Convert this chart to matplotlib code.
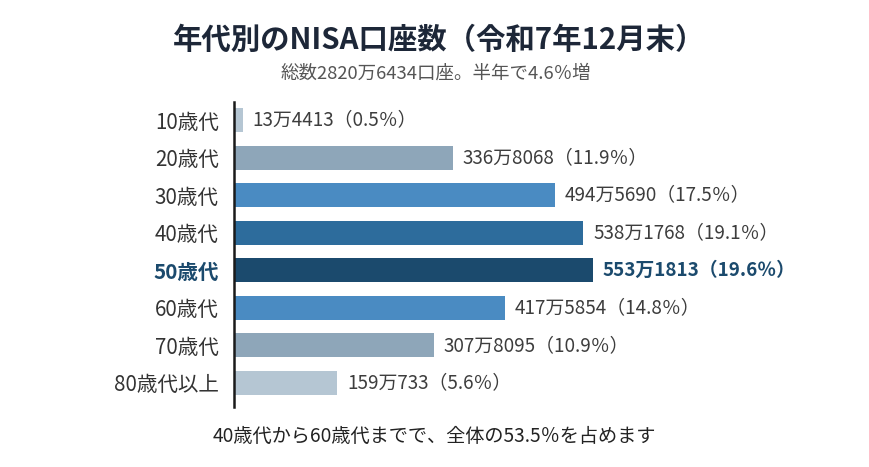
import matplotlib
matplotlib.use('Agg')
import matplotlib.pyplot as plt

plt.rcParams['font.family'] = ['Noto Sans CJK JP', 'DejaVu Sans']

# Data (unit: 万口座)
categories = ['10歳代', '20歳代', '30歳代', '40歳代', '50歳代', '60歳代', '70歳代', '80歳代以上']
values = [13.4413, 336.8068, 494.5690, 538.1768, 553.1813, 417.5854, 307.8095, 159.0733]
value_labels = ['13万4413（0.5％）', '336万8068（11.9％）', '494万5690（17.5％）', '538万1768（19.1％）',
                '553万1813（19.6％）', '417万5854（14.8％）', '307万8095（10.9％）', '159万733（5.6％）']
bar_colors = ['#b5c6d3', '#8ea6b9', '#4a8bc2', '#2d6c9c', '#1b4a6d', '#4a8bc2', '#8ea6b9', '#b5c6d3']
highlight = 4

title = '年代別のNISA口座数（令和7年12月末）'
subtitle = '総数2820万6434口座。半年で4.6％増'
note = '40歳代から60歳代までで、全体の53.5％を占めます'

W, H = 870, 467
fig = plt.figure(figsize=(W / 100, H / 100), dpi=100)
fig.patch.set_facecolor('white')

# axes placed in pixel terms
ax_left, ax_right, ax_top, ax_bottom = 234, 834, 102, 407
ax = fig.add_axes([ax_left / W, 1 - ax_bottom / H, (ax_right - ax_left) / W, (ax_bottom - ax_top) / H])

ypos = list(range(len(categories)))
ax.barh(ypos, values, height=0.64, color=bar_colors, zorder=2)
px_per_unit = (593 - 234) / 553.18
ax.set_xlim(0, (ax_right - ax_left) / px_per_unit)
ax.set_ylim(7.64, -0.48)

for i, (v, lab) in enumerate(zip(values, value_labels)):
    bold = i == highlight
    ax.text(v + 15, i, lab, va='center', ha='left', fontsize=13.6,
            color='#1b4a6d' if bold else '#3d3d3d',
            fontweight='bold' if bold else 'normal')

ax.set_yticks(ypos)
ax.set_yticklabels(categories, fontsize=14.8, color='#333333')
for i, t in enumerate(ax.get_yticklabels()):
    if i == highlight:
        t.set_fontweight('bold')
        t.set_color('#1b4a6d')
ax.tick_params(axis='y', length=0, pad=11)
ax.set_xticks([])
for s in ['top', 'right', 'bottom']:
    ax.spines[s].set_visible(False)
ax.spines['left'].set_linewidth(1.8)
ax.spines['left'].set_color('#1a1a1a')
ax.spines['left'].set_zorder(3)

fig.text(439 / W, 1 - 40 / H, title, ha='center', va='center', fontsize=21.2,
         fontweight='bold', color='#1d2738')
fig.text(436 / W, 1 - 74 / H, subtitle, ha='center', va='center', fontsize=13.3,
         color='#555555')
fig.text(434 / W, 1 - 436 / H, note, ha='center', va='center', fontsize=13.8,
         color='#222222')

fig.savefig('out.png', dpi=100, facecolor='white')
